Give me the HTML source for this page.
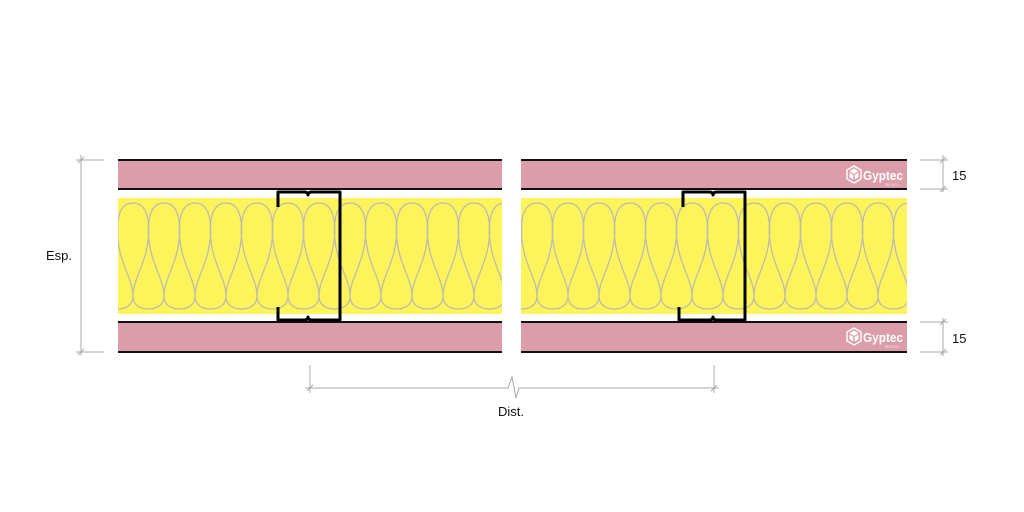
<!DOCTYPE html>
<html><head><meta charset="utf-8"><style>
html,body{margin:0;padding:0;background:#fff;width:1024px;height:512px;overflow:hidden}
svg{display:block}
text{font-family:"Liberation Sans",sans-serif}
</style></head><body>
<svg id="s" width="1024" height="512" viewBox="0 0 1024 512" xmlns="http://www.w3.org/2000/svg">
<defs>
<clipPath id="cl"><rect x="118" y="198" width="384" height="116"/></clipPath>
<clipPath id="cr"><rect x="521" y="198" width="386" height="116"/></clipPath>
</defs>
<rect x="118" y="160" width="384" height="29" fill="#db9daa"/>
<rect x="521" y="160" width="386" height="29" fill="#db9daa"/>
<rect x="118" y="322" width="384" height="30" fill="#db9daa"/>
<rect x="521" y="322" width="386" height="30" fill="#db9daa"/>
<g stroke="#111" stroke-width="2">
<line x1="118" y1="160" x2="502" y2="160"/><line x1="118" y1="189" x2="502" y2="189"/>
<line x1="521" y1="160" x2="907" y2="160"/><line x1="521" y1="189" x2="907" y2="189"/>
<line x1="118" y1="322" x2="502" y2="322"/><line x1="118" y1="352" x2="502" y2="352"/>
<line x1="521" y1="322" x2="907" y2="322"/><line x1="521" y1="352" x2="907" y2="352"/>
</g>
<rect x="118" y="198" width="384" height="116" fill="#fdf35a"/>
<rect x="521" y="198" width="386" height="116" fill="#fdf35a"/>
<g id="insL" clip-path="url(#cl)" fill="none" stroke="#bdbdb0" stroke-width="1.3"></g>
<g id="insR" clip-path="url(#cr)" fill="none" stroke="#bdbdb0" stroke-width="1.3"></g>
<g fill="none" stroke="#000" stroke-width="3" stroke-linejoin="round">
<path d="M278,207 V192 H304 q4,0 4,3 q0,-3 4,-3 H340 V320 H312 q-4,0 -4,-3 q0,3 -4,3 H278 V307"/>
<path d="M683,207 V192 H709 q4,0 4,3 q0,-3 4,-3 H745 V320 H717 q-4,0 -4,-3 q0,3 -4,3 H679 V307"/>
</g>
<g fill="#fff">
<polygon points="854,166 861,170 861,179 854,183 847,179 847,170" fill="none" stroke="#fff" stroke-width="1.4"/>
<polygon points="854,168.5 858.5,171.2 854,173.9 849.5,171.2"/>
<polygon points="849.5,172.6 853.3,174.8 853.3,179.6 849.5,177.4"/>
<polygon points="858.5,172.6 854.7,174.8 854.7,179.6 858.5,177.4"/>
<text x="863" y="180" font-size="12.5" font-weight="bold" textLength="40" lengthAdjust="spacingAndGlyphs">Gyptec</text>
<text x="885" y="186" font-size="3.5" fill="#f3dde2">IBERICA</text>
<polygon points="854,328 861,332 861,341 854,345 847,341 847,332" fill="none" stroke="#fff" stroke-width="1.4"/>
<polygon points="854,330.5 858.5,333.2 854,335.9 849.5,333.2"/>
<polygon points="849.5,334.6 853.3,336.8 853.3,341.6 849.5,339.4"/>
<polygon points="858.5,334.6 854.7,336.8 854.7,341.6 858.5,339.4"/>
<text x="863" y="342" font-size="12.5" font-weight="bold" textLength="40" lengthAdjust="spacingAndGlyphs">Gyptec</text>
<text x="885" y="348" font-size="3.5" fill="#f3dde2">IBERICA</text>
</g>
<g stroke="#a8a8a8" stroke-width="1" fill="none">
<line x1="81" y1="155" x2="81" y2="355"/>
<line x1="76" y1="160" x2="104" y2="160"/><line x1="76" y1="352" x2="104" y2="352"/>
<line x1="78" y1="163" x2="84" y2="157"/><line x1="78" y1="355" x2="84" y2="349"/>
<line x1="943" y1="155" x2="943" y2="192"/><line x1="943" y1="318" x2="943" y2="356"/>
<line x1="920" y1="160" x2="948" y2="160"/><line x1="920" y1="189" x2="948" y2="189"/>
<line x1="920" y1="322" x2="948" y2="322"/><line x1="920" y1="352" x2="948" y2="352"/>
<line x1="940" y1="163" x2="946" y2="157"/><line x1="940" y1="192" x2="946" y2="186"/>
<line x1="940" y1="325" x2="946" y2="319"/><line x1="940" y1="355" x2="946" y2="349"/>
<line x1="310" y1="365" x2="310" y2="393"/><line x1="714" y1="365" x2="714" y2="393"/>
<line x1="307" y1="391" x2="313" y2="385"/><line x1="711" y1="391" x2="717" y2="385"/>
<polyline points="305,388 508,388 512,377 516,398 519,388 719,388"/>
</g>
<g fill="#111" font-size="13">
<text x="46" y="260">Esp.</text>
<text x="952" y="180">15</text>
<text x="952" y="343">15</text>
<text x="498" y="416">Dist.</text>
</g>
</svg>
<script>
function build(id,start,x0,x1){
 var g=document.getElementById(id),d="";
 for(var c=start-62;c<x1+62;c+=31){
  d+="M"+c+",203 C"+(c+19)+",203 "+(c+17)+",235 "+(c+13)+",252 C"+(c+8)+",272 "+c+",282 "+c+",296 C"+c+",305 "+(c+7)+",309 "+(c+15.5)+",309 ";
  d+="M"+c+",203 C"+(c-19)+",203 "+(c-17)+",235 "+(c-13)+",252 C"+(c-8)+",272 "+c+",282 "+c+",296 C"+c+",305 "+(c-7)+",309 "+(c-15.5)+",309 ";
 }
 var p=document.createElementNS("http://www.w3.org/2000/svg","path");p.setAttribute("d",d);g.appendChild(p);
}
build("insL",133,118,502);build("insR",537,521,907);
</script>
</body></html>
